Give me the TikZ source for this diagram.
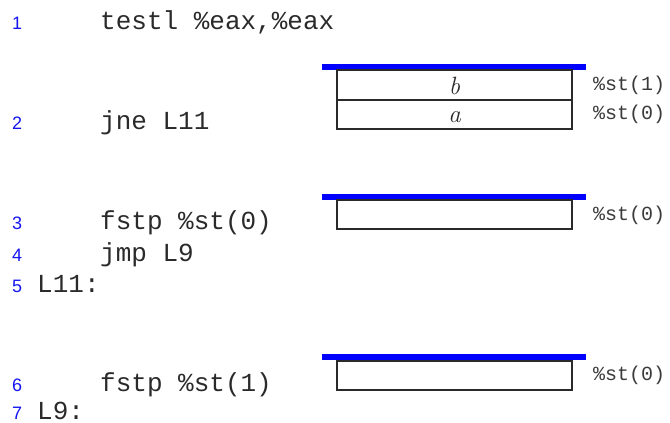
\documentclass[tikz,border=0pt]{standalone}
\usepackage{fontspec}
\newfontfamily\codefont{Liberation Mono}
\newfontfamily\numfont{Liberation Sans}
\definecolor{codegray}{HTML}{2A2A2A}
\definecolor{labgray}{HTML}{3A3A3A}
\definecolor{numblue}{HTML}{1414F0}
\tikzset{
  code/.style={anchor=base west, inner sep=0pt, text=codegray, font=\codefont\fontsize{26}{26}\selectfont},
  lnum/.style={anchor=base west, inner sep=0pt, text=numblue, font=\numfont\fontsize{18}{18}\selectfont},
  reg/.style={anchor=base west, inner sep=0pt, text=labgray, font=\codefont\fontsize{20}{20}\selectfont},
  cell/.style={draw=codegray, line width=2pt, minimum width=235pt, minimum height=29.5pt, inner sep=0pt},
  var/.style={anchor=base, inner sep=0pt, text=codegray, font=\fontsize{25}{25}\selectfont\itshape},
  bar/.style={draw=blue, line width=6pt},
}
\begin{document}
\begin{tikzpicture}[x=1pt,y=-1pt]
\useasboundingbox (0,0) rectangle (670,423);
% code lines
\node[lnum] (n1) at (12,30) {1};
\node[code] (c1) at (100,30) {testl \%eax,\%eax};
\node[lnum] (n2) at (12,129) {2};
\node[code] (c2) at (100,129) {jne L11};
\node[lnum] (n3) at (12,229) {3};
\node[code] (c3) at (100,229) {fstp \%st(0)};
\node[lnum] (n4) at (12,261) {4};
\node[code] (c4) at (100,261) {jmp L9};
\node[lnum] (n5) at (12,292) {5};
\node[code] (c5) at (37,292) {L11:};
\node[lnum] (n6) at (12,391) {6};
\node[code] (c6) at (100,391) {fstp \%st(1)};
\node[lnum] (n7) at (12,419) {7};
\node[code] (c7) at (37,419) {L9:};
% stack 1
\coordinate (t1l) at (322,67.3);
\coordinate (t1r) at (586,67.3);
\draw[bar] (t1l) -- (t1r);
\node[cell] (s1b) at (454.5,84.75) {};
\node[cell] (s1a) at (454.5,114.25) {};
\node[var] (vb) at (454.5,94) {b};
\node[var] (va) at (454.5,122) {a};
\node[reg] (r11) at (593,90.7) {\%st(1)};
\node[reg] (r10) at (593,119.3) {\%st(0)};
% stack 2
\coordinate (t2l) at (322,197.3);
\coordinate (t2r) at (586,197.3);
\draw[bar] (t2l) -- (t2r);
\node[cell] (s2) at (454.5,214.5) {};
\node[reg] (r20) at (593,220) {\%st(0)};
% stack 3
\coordinate (t3l) at (322,357.3);
\coordinate (t3r) at (586,357.3);
\draw[bar] (t3l) -- (t3r);
\node[cell] (s3) at (454.5,375.5) {};
\node[reg] (r30) at (593,380.7) {\%st(0)};
\end{tikzpicture}
\end{document}
